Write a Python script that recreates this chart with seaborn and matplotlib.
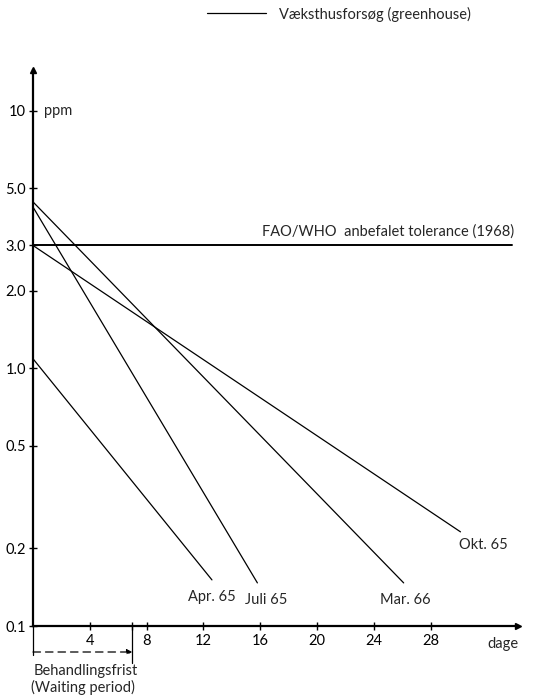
import numpy as np
import pandas as pd
import matplotlib
matplotlib.use("Agg")
import matplotlib.pyplot as plt
from matplotlib.lines import Line2D
import seaborn as sns

# ---- data ----
series = ["Apr. 65", "Juli 65", "Mar. 66", "Okt. 65"]
start_days = [0, 0, 0, 0]
start_ppm = [1.09, 4.23, 4.43, 3.0]
end_days = [12.6, 15.8, 26.1, 30.1]
end_ppm = [0.151, 0.147, 0.147, 0.232]

tolerance = 3.0
waiting_period = 7
y_ticks = [0.1, 0.2, 0.5, 1.0, 2.0, 3.0, 5.0, 10]
y_tick_labels = ["0.1", "0.2", "0.5", "1.0", "2.0", "3.0", "5.0", "10"]
x_ticks = [4, 8, 12, 16, 20, 24, 28]
x_tick_labels = ["4", "8", "12", "16", "20", "24", "28"]

rows = []
for s, d0, p0, d1, p1 in zip(series, start_days, start_ppm, end_days, end_ppm):
    rows.append({"serie": s, "dage": d0, "ppm": p0})
    rows.append({"serie": s, "dage": d1, "ppm": p1})
df = pd.DataFrame(rows)

sns.set_theme(style="white")
plt.rcParams["font.family"] = ["Lato", "DejaVu Sans"]

fig = plt.figure(figsize=(5.33, 6.95), dpi=100)
W, H = 533, 695
left, right, bottom, top = 33, 518, 626, 70
ax = fig.add_axes([left / W, 1 - bottom / H, (right - left) / W, (bottom - top) / H])

sns.lineplot(data=df, x="dage", y="ppm", hue="serie", units="serie", estimator=None,
             palette=["black"] * 4, linewidth=0.9, legend=False, ax=ax)

ax.set_yscale("log")
ax.set_xlim(0, 34.15)
ax.set_ylim(0.1, 14.4)

# tolerance line
ax.axhline(tolerance, xmin=0, xmax=(512 - left) / (right - left), color="black", lw=1.4)
ax.text(33.9, tolerance * 1.06, "FAO/WHO  anbefalet tolerance (1968)", ha="right",
        va="bottom", fontsize=10.5)

# spines / axes
for sp in ["top", "right"]:
    ax.spines[sp].set_visible(False)
for sp in ["left", "bottom"]:
    ax.spines[sp].set_linewidth(1.6)
    ax.spines[sp].set_color("black")
ax.plot(1, 0, ">", color="black", ms=5, transform=ax.transAxes, clip_on=False)
ax.plot(0, 1, "^", color="black", ms=5, transform=ax.transAxes, clip_on=False)

ax.set_yticks(y_ticks)
ax.set_yticklabels(y_tick_labels)
ax.minorticks_off()
ax.set_xticks(x_ticks + [waiting_period])
ax.set_xticklabels(x_tick_labels + [""])
ax.tick_params(axis="both", which="major", direction="inout", length=6, width=1,
               color="black", labelsize=10.5, labelcolor="black",
               bottom=True, left=True, top=False, right=False)
ax.tick_params(axis="y", pad=2)
ax.tick_params(axis="x", pad=3)
ax.set_xlabel("")
ax.set_ylabel("")
ax.grid(False)

ax.text(0.8, 10, "ppm", ha="left", va="center", fontsize=10.5)
ax.annotate("dage", xy=(34.15, 0.1), xytext=(0, -11), textcoords="offset pixels",
            ha="right", va="top", fontsize=10.5)

# series labels
offsets = {"Apr. 65": (0, -10, "center"), "Juli 65": (9, -10, "center"),
           "Mar. 66": (2, -10, "center"), "Okt. 65": (-1, -6, "left")}
for s, d1, p1 in zip(series, end_days, end_ppm):
    dx, dy, ha = offsets[s]
    ax.annotate(s, xy=(d1, p1), xytext=(dx, dy), textcoords="offset pixels",
                ha=ha, va="top", fontsize=10.5)

# waiting period
ya = -(652 - bottom) / (bottom - top)
ax.annotate("", xy=(waiting_period, ya), xytext=(0, ya),
            xycoords=("data", "axes fraction"), textcoords=("data", "axes fraction"),
            arrowprops=dict(arrowstyle="-|>", color="black", lw=0.9, ls=(0, (6, 4)),
                            mutation_scale=8, shrinkA=0, shrinkB=0), annotation_clip=False)
ax.plot([0, 0], [0, -(655 - bottom) / (bottom - top)], color="black", lw=0.9,
        transform=ax.get_xaxis_transform(), clip_on=False)
ax.plot([waiting_period, waiting_period], [0, -(663 - bottom) / (bottom - top)],
        color="black", lw=0.9, transform=ax.get_xaxis_transform(), clip_on=False)
ax.text(3.7, -(671 - bottom) / (bottom - top), "Behandlingsfrist", ha="center", va="center",
        fontsize=10.5, transform=ax.get_xaxis_transform())
ax.text(3.5, -(687 - bottom) / (bottom - top), "(Waiting period)", ha="center", va="center",
        fontsize=10.5, transform=ax.get_xaxis_transform())

# legend
handle = Line2D([], [], color="black", lw=0.9)
fig.legend([handle], ["Væksthusforsøg (greenhouse)"], loc="center left",
           bbox_to_anchor=(200 / W, 1 - 14 / H), frameon=False, fontsize=10.5,
           handlelength=4.0, handletextpad=0.9, borderpad=0)

fig.savefig("out.png", dpi=100, facecolor="white")
